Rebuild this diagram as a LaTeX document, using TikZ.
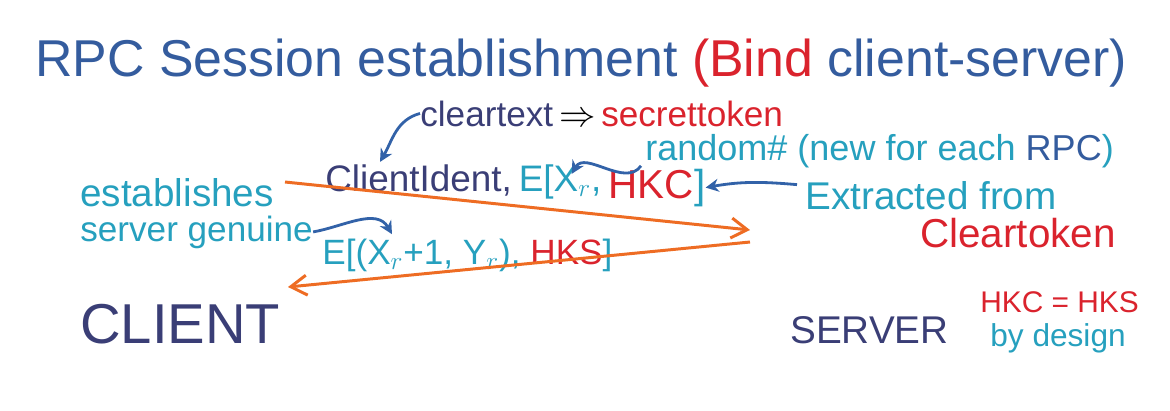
\documentclass[tikz,border=0pt]{standalone}
\usepackage{fontspec}
\setmainfont{Liberation Sans}
\definecolor{inkblue}{RGB}{52,92,158}
\definecolor{navy}{RGB}{58,62,118}
\definecolor{note}{RGB}{38,160,190}
\definecolor{alert}{RGB}{218,35,45}
\definecolor{msg}{RGB}{238,108,35}
\definecolor{pointer}{RGB}{50,98,168}
\usetikzlibrary{arrows.meta,calc}
\tikzset{
  hand/.style={inner sep=0pt, anchor=base west},
  msgline/.style={msg, line width=1.7pt, -{Straight Barb[length=3.2mm,width=4mm]}},
  hint/.style={pointer, line width=1.6pt, -{Stealth[length=2.6mm,width=2.6mm]}}
}

\begin{document}
\begin{tikzpicture}[x=0.02cm,y=-0.02cm]
  \useasboundingbox (0,0) rectangle (1170,410);
  \node[hand, text=inkblue, font=\fontsize{29.5}{32}\selectfont] (title) at (35,76)
    {RPC Session establishment \textcolor{alert}{(Bind} client-server)};

  \node[hand, text=navy, font=\fontsize{20}{22}\selectfont] (clear) at (420,126)
    {cleartext\,\textcolor{black}{$\Rightarrow$}\,\textcolor{alert}{secrettoken}};
  \node[hand, text=navy, font=\fontsize{21}{23}\selectfont] (cid) at (325,191) {ClientIdent,};
  \node[hand, text=note, font=\fontsize{21}{23}\selectfont] (ex) at (cid.base east) {\,E[X$_r$,};
  \node[hand, text=alert, font=\fontsize{23}{25}\selectfont] (hkc) at ([yshift=-4pt]ex.base east) {\,HKC\textcolor{note}{]}};
  \node[hand, text=note, font=\fontsize{20.5}{22}\selectfont] (rnd) at (645,160)
    {random\# (new for each \textcolor{inkblue}{RPC})};
  \node[hand, text=note, font=\fontsize{22}{24}\selectfont] (ext) at (805,209) {Extracted from};
  \node[hand, text=alert, font=\fontsize{23}{25}\selectfont] (ctok) at (920,247) {Cleartoken};

  \node[hand, text=note, font=\fontsize{22}{24}\selectfont] (est) at (80,206) {establishes};
  \node[hand, text=note, font=\fontsize{20}{22}\selectfont] (gen) at (80,241) {server genuine};
  \node[hand, text=note, font=\fontsize{20}{22}\selectfont] (reply) at (322,264)
    {E[(X$_r$+1, Y$_r$), \textcolor{alert}{HKS}]};

  \node[hand, text=navy, font=\fontsize{32}{34}\selectfont] (client) at (80,343) {CLIENT};
  \node[hand, text=navy, font=\fontsize{22}{24}\selectfont] (server) at (790,343) {SERVER};
  \node[hand, text=alert, font=\fontsize{17}{19}\selectfont] (same) at (980,312) {HKC = HKS};
  \node[hand, text=note, font=\fontsize{18}{20}\selectfont] (design) at (990,346) {by design};

  \coordinate (c1) at (285,182);
  \coordinate (s1) at (750,230);
  \coordinate (s2) at (750,242);
  \coordinate (c2) at (288,287);
  \draw[msgline] (c1) -- (s1);
  \draw[msgline] (s2) -- (c2);

  \draw[hint] (clear.west) to[out=195,in=60] ($(cid.north west)+(55,-2)$);
  \draw[hint] ($(rnd.south west)+(-4,-2)$) to[out=235,in=60] ($(ex.north east)+(-30,10)$);
  \draw[hint] ($(ext.north west)+(-8,4)$) to[out=175,in=10] (hkc.east);
  \draw[hint] (gen.east) to[out=10,in=120] ($(reply.north west)+(70,-4)$);
\end{tikzpicture}
\end{document}
